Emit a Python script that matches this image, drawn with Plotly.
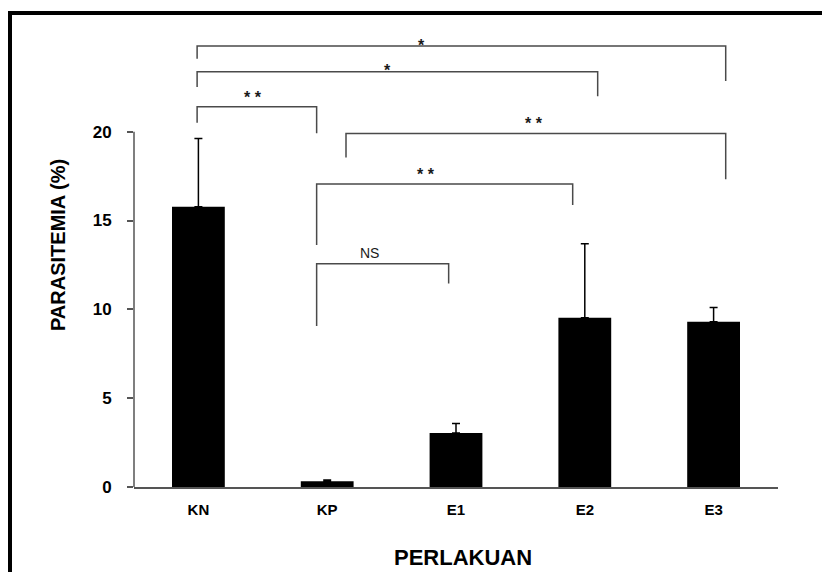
import plotly.graph_objects as go

# ---- data ----
categories = ["KN", "KP", "E1", "E2", "E3"]
means = [15.77, 0.32, 3.04, 9.53, 9.30]
errors = [3.85, 0.07, 0.54, 4.16, 0.81]

y_ticks = [0, 5, 10, 15, 20]

# significance brackets (x in category index units, y in % units)
br_x_left = [-0.01, -0.01, -0.01, 1.146, 0.918, 0.918]
br_x_right = [4.094, 3.10, 0.918, 4.094, 2.906, 1.943]
br_y_top = [24.82, 23.37, 21.40, 19.90, 17.05, 12.57]
br_y_left_end = [24.10, 22.51, 20.50, 18.55, 13.62, 9.06]
br_y_right_end = [22.85, 22.00, 19.92, 17.32, 15.87, 11.46]
br_labels = ["*", "*", "* *", "* *", "* *", "NS"]
br_label_x = [1.73, 1.47, 0.424, 2.606, 1.765, 1.332]
br_label_y = [25.1, 23.67, 22.16, 20.71, 17.84, 13.19]

FONT = "Liberation Sans, Arial, sans-serif"
# page has an 8px body margin; figure sits at (8, 8)
OFF = 8
W, H = 830 - OFF, 572 - OFF
PLOT_L, PLOT_R, PLOT_T, PLOT_B = 134, 778, 34, 487  # page pixel coords
L, R, T, B = PLOT_L - OFF, 830 - PLOT_R, PLOT_T - OFF, 572 - PLOT_B
pw, ph = PLOT_R - PLOT_L, PLOT_B - PLOT_T


def px_to_paper_x(px):
    return (px - PLOT_L) / pw


def px_to_paper_y(py):
    return (PLOT_B - py) / ph


fig = go.Figure()

fig.add_trace(go.Bar(
    x=list(range(len(categories))), y=means, width=0.41,
    marker=dict(color="black", line=dict(width=0)),
    error_y=dict(type="data", array=errors, arrayminus=[0] * len(errors),
                 symmetric=False, color="black", thickness=1.5, width=4),
    hoverinfo="skip", showlegend=False,
))

for i in range(len(br_labels)):
    fig.add_trace(go.Scatter(
        x=[br_x_left[i], br_x_left[i], br_x_right[i], br_x_right[i]],
        y=[br_y_left_end[i], br_y_top[i], br_y_top[i], br_y_right_end[i]],
        mode="lines", line=dict(color="#4a4a4a", width=1.5),
        hoverinfo="skip", showlegend=False,
    ))
    is_ns = br_labels[i] == "NS"
    fig.add_annotation(
        x=br_label_x[i], y=br_label_y[i], xref="x", yref="y",
        text=br_labels[i], showarrow=False, xanchor="center", yanchor="middle",
        yshift=0 if is_ns else -4,
        font=dict(family=FONT, size=14 if is_ns else 16, color="#1a1a1a",
                  weight="normal" if is_ns else "bold"),
    )

# axis titles
fig.add_annotation(
    x=px_to_paper_x(58), y=px_to_paper_y(245), xref="paper", yref="paper",
    xanchor="center", yanchor="middle",
    text="PARASITEMIA (%)", textangle=-90, showarrow=False,
    font=dict(family=FONT, size=20, color="black", weight="bold"),
)
fig.add_annotation(
    x=px_to_paper_x(463), y=px_to_paper_y(557), xref="paper", yref="paper",
    xanchor="center", yanchor="middle",
    text="PERLAKUAN", showarrow=False,
    font=dict(family=FONT, size=22, color="black", weight="bold"),
)

# y axis line (only up to 20)
fig.add_shape(type="line", xref="paper", yref="y", x0=0, x1=0, y0=0, y1=20,
              line=dict(color="#555555", width=1.5))

# outer frame
fig.add_shape(type="rect", xref="paper", yref="paper",
              x0=px_to_paper_x(10), x1=px_to_paper_x(845),
              y0=px_to_paper_y(600), y1=px_to_paper_y(13),
              line=dict(color="black", width=4), fillcolor="rgba(0,0,0,0)")

fig.update_layout(
    width=W, height=H,
    margin=dict(l=L, r=R, t=T, b=B, pad=0),
    paper_bgcolor="white", plot_bgcolor="white",
    font=dict(family=FONT, color="black"),
    xaxis=dict(
        range=[-0.5, 4.5], tickvals=list(range(len(categories))),
        ticktext=categories, showline=True, linecolor="#555555", linewidth=1.5,
        ticks="", showgrid=False, zeroline=False, ticklabelstandoff=8,
        tickfont=dict(family=FONT, size=15, color="black", weight="bold"),
    ),
    yaxis=dict(
        range=[0, 25.5], tickvals=y_ticks, showline=False, ticks="outside",
        ticklen=6, tickwidth=1.5, tickcolor="#555555", showgrid=False,
        zeroline=False, ticklabelstandoff=12,
        tickfont=dict(family=FONT, size=17, color="black", weight="bold"),
    ),
)

fig.write_html("out.html")
